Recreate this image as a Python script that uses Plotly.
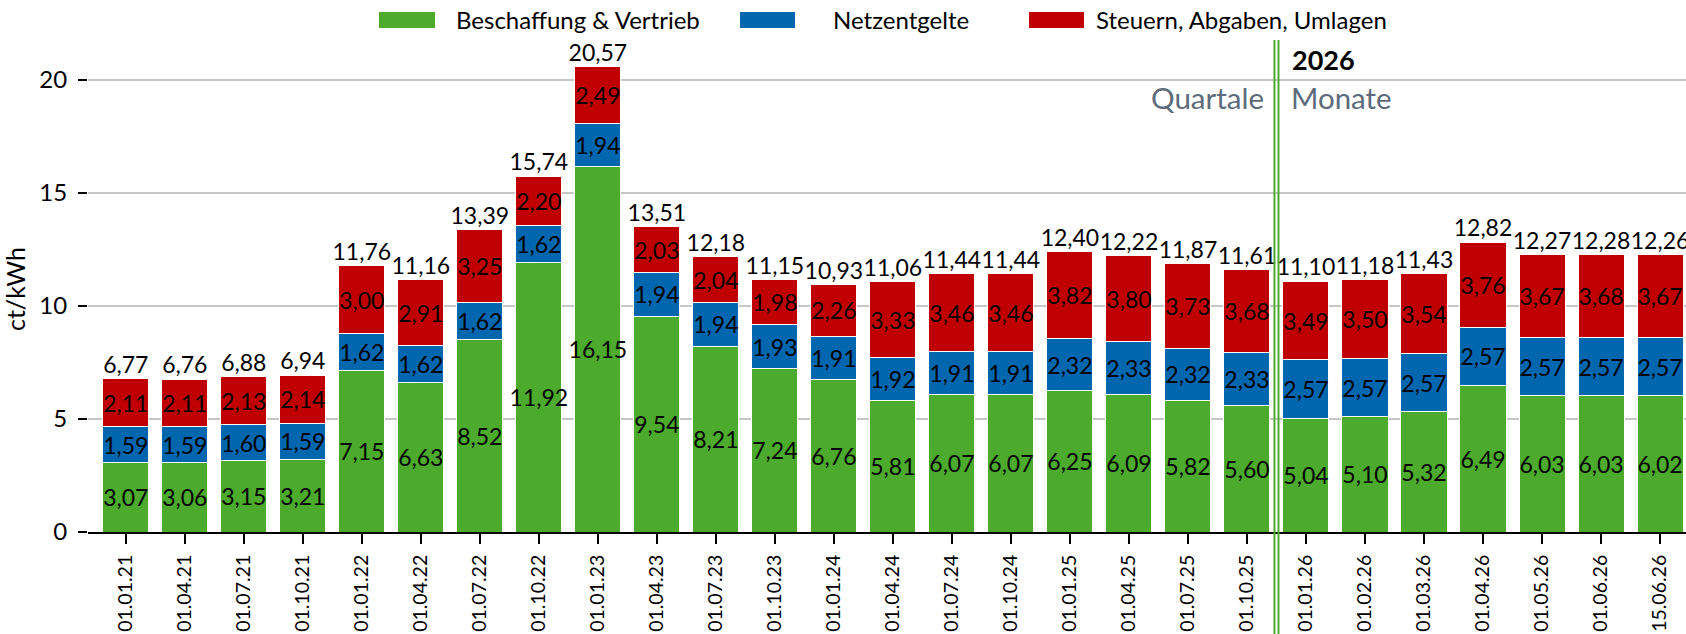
import plotly.graph_objects as go

categories = ["01.01.21", "01.04.21", "01.07.21", "01.10.21", "01.01.22", "01.04.22", "01.07.22",
              "01.10.22", "01.01.23", "01.04.23", "01.07.23", "01.10.23", "01.01.24", "01.04.24",
              "01.07.24", "01.10.24", "01.01.25", "01.04.25", "01.07.25", "01.10.25", "01.01.26",
              "01.02.26", "01.03.26", "01.04.26", "01.05.26", "01.06.26", "15.06.26"]

beschaffung = [3.07, 3.06, 3.15, 3.21, 7.15, 6.63, 8.52, 11.92, 16.15, 9.54, 8.21, 7.24, 6.76, 5.81,
               6.07, 6.07, 6.25, 6.09, 5.82, 5.60, 5.04, 5.10, 5.32, 6.49, 6.03, 6.03, 6.02]
netzentgelte = [1.59, 1.59, 1.60, 1.59, 1.62, 1.62, 1.62, 1.62, 1.94, 1.94, 1.94, 1.93, 1.91, 1.92,
                1.91, 1.91, 2.32, 2.33, 2.32, 2.33, 2.57, 2.57, 2.57, 2.57, 2.57, 2.57, 2.57]
steuern = [2.11, 2.11, 2.13, 2.14, 3.00, 2.91, 3.25, 2.20, 2.49, 2.03, 2.04, 1.98, 2.26, 3.33,
           3.46, 3.46, 3.82, 3.80, 3.73, 3.68, 3.49, 3.50, 3.54, 3.76, 3.67, 3.68, 3.67]
totals = [6.77, 6.76, 6.88, 6.94, 11.76, 11.16, 13.39, 15.74, 20.57, 13.51, 12.18, 11.15, 10.93, 11.06,
          11.44, 11.44, 12.40, 12.22, 11.87, 11.61, 11.10, 11.18, 11.43, 12.82, 12.27, 12.28, 12.26]

series_names = ["Beschaffung & Vertrieb", "Netzentgelte", "Steuern, Abgaben, Umlagen"]
colors = ["#4CAA2C", "#0067AE", "#C00000"]
divider_after = "01.10.25"

FONT = "Lato"
W, H = 1686, 634
ML, MR, MT, MB = 88, 0, 46, 102
PW, PH = W - ML - MR, H - MT - MB


def px_x(px):
    return (px - ML) / PW


def px_y(py):
    return (H - MB - py) / PH


fig = go.Figure()
for name, vals, col in zip(series_names, [beschaffung, netzentgelte, steuern], colors):
    fig.add_trace(go.Bar(
        x=categories, y=vals, name=name, marker=dict(color=col, line=dict(color="white", width=1)),
        texttemplate="%{y:.2f}", textposition="inside", insidetextanchor="middle",
        textangle=0, constraintext="none",
        insidetextfont=dict(family=FONT, size=23, color="black"),
        showlegend=False,
    ))

fig.add_trace(go.Scatter(
    x=categories, y=totals, mode="text", texttemplate="%{y:.2f}", textposition="top center",
    textfont=dict(family=FONT, size=23, color="black"), showlegend=False, cliponaxis=False,
))

shapes = []
annotations = []
# custom legend
legend_items = [(379, 435, 454), (740, 795, 831), (1029, 1084, 1094)]
for (x0, x1, tx), name, col in zip(legend_items, series_names, colors):
    shapes.append(dict(type="rect", xref="paper", yref="paper", x0=px_x(x0), x1=px_x(x1),
                       y0=px_y(28), y1=px_y(12), fillcolor=col, line=dict(width=0)))
    annotations.append(dict(xref="paper", yref="paper", x=px_x(tx), y=px_y(20), text=name,
                            showarrow=False, xanchor="left", yanchor="middle",
                            font=dict(family=FONT, size=24, color="black")))

# divider between quarterly and monthly values
div_idx = categories.index(divider_after) + 0.5
for off in (-0.034, 0.034):
    shapes.append(dict(type="line", xref="x", yref="paper", x0=div_idx + off, x1=div_idx + off,
                       y0=-0.25, y1=px_y(40), line=dict(color="#4CAA2C", width=2), layer="above"))

annotations += [
    dict(xref="paper", yref="paper", x=px_x(1290), y=px_y(59), text="<b>2026</b>", showarrow=False,
         xanchor="left", yanchor="middle", font=dict(family=FONT, size=27, color="black")),
    dict(xref="paper", yref="paper", x=px_x(1266), y=px_y(98), text="Quartale", showarrow=False,
         xanchor="right", yanchor="middle", font=dict(family=FONT, size=29.5, color="#5D6B7A")),
    dict(xref="paper", yref="paper", x=px_x(1289), y=px_y(98), text="Monate", showarrow=False,
         xanchor="left", yanchor="middle", font=dict(family=FONT, size=29.5, color="#5D6B7A")),
]

fig.update_layout(
    width=W, height=H, barmode="stack", bargap=0.22, separators=",.",
    margin=dict(l=ML, r=MR, t=MT, b=MB, autoexpand=False),
    plot_bgcolor="white", paper_bgcolor="white",
    font=dict(family=FONT, size=22, color="black"),
    shapes=shapes, annotations=annotations,
    xaxis=dict(type="category", range=[-0.64, 26.44], tickangle=-90, showline=True, linecolor="black",
               linewidth=2, ticks="outside", ticklen=10, tickwidth=2, tickcolor="black",
               showgrid=False, ticklabelstandoff=3, tickfont=dict(family=FONT, size=19.5, color="black")),
    yaxis=dict(range=[0, 21.5], tickvals=[0, 5, 10, 15, 20], showgrid=True, gridcolor="#C6C6C6",
               gridwidth=1.5, zeroline=False, showline=False, ticks="outside", ticklen=9, tickwidth=2,
               tickcolor="black", ticklabelstandoff=6, tickfont=dict(family=FONT, size=24, color="black"),
               title=dict(text="ct/kWh", standoff=6, font=dict(family=FONT, size=25, color="black"))),
)

fig.write_html("out.html", config={"displayModeBar": False},
               post_script="document.body.style.margin='0';document.body.style.overflow='hidden';")
